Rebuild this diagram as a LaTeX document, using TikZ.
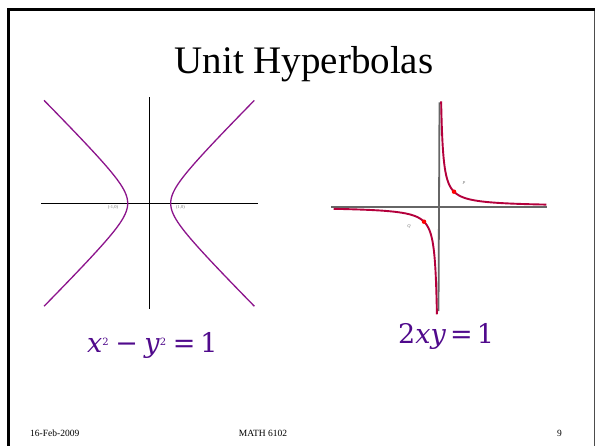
\documentclass[tikz,border=0pt]{standalone}
\usepackage{fontspec}
\setmainfont{Liberation Serif}
\newfontfamily\eqfont{DejaVu Serif}
\newcommand{\sqr}{\raisebox{7pt}{\fontsize{10}{10}\selectfont 2}}
\begin{document}
\begin{tikzpicture}[x=1pt,y=-1pt,
  frameline/.style={black,line width=3pt},
  axisL/.style={black,line width=1.2pt},
  axisR/.style={black!60,line width=1.8pt},
  curveL/.style={draw={rgb,255:red,140;green,20;blue,140},line width=1.3pt},
  curveR/.style={draw={rgb,255:red,180;green,0;blue,60},line width=1.9pt},
  tiny/.style={font=\fontsize{4.5}{5}\selectfont,text=black!55,inner sep=0pt},
  eqn/.style={font=\eqfont\fontsize{27}{30}\selectfont,text={rgb,255:red,80;green,10;blue,140},inner sep=0pt,anchor=base west},
  foot/.style={font=\fontsize{9.5}{10}\selectfont,inner sep=0pt,anchor=base west},
  pt/.style={circle,fill=red,inner sep=0pt,minimum size=4.5pt}]
\useasboundingbox (0,0) rectangle (596,446);
\fill[white] (0,0) rectangle (596,446);
% frame
\coordinate (fTL) at (8.5,10);
\coordinate (fTR) at (594.5,10);
\coordinate (fBL) at (8.5,447);
\coordinate (fBR) at (594.5,447);
\draw[black!70,line width=1pt] (fTR) -- (fBR);
\draw[frameline] (fBL) -- (fTL) -- (fTR);
% title
\node[font=\fontsize{39}{42}\selectfont,inner sep=0pt,anchor=base] (title) at (304,73.3) {Unit Hyperbolas};
% left plot
\coordinate (Lw) at (41,203.3);
\coordinate (Le) at (258,203.3);
\coordinate (Ln) at (149.2,97.3);
\coordinate (Ls) at (149.2,309);
\draw[axisL] (Lw) -- (Le);
\draw[axisL] (Ln) -- (Ls);
\draw[curveL] plot[domain=-2.27:2.27,samples=90,variable=\t] ({149.2+21.5*cosh(\t)},{203.3-21.5*sinh(\t)});
\draw[curveL] plot[domain=-2.27:2.27,samples=90,variable=\t] ({149.2-21.5*cosh(\t)},{203.3-21.5*sinh(\t)});
\node[tiny] (lm) at (113,207.7) {(-1,0)};
\node[tiny] (lp) at (180.5,207.7) {(1,0)};
% right plot
\coordinate (Rw) at (331,206.7);
\coordinate (Re) at (547,206.7);
\coordinate (Rn) at (439.5,102.3);
\coordinate (Rs) at (438.5,311);
\draw[axisR] (Rw) -- (Re);
\draw[axisR] (Rn) -- (Rs);
\draw[curveR] plot[domain=-1.95:1.97,samples=120,variable=\t] ({439+15*exp(\t)},{206.7-15*exp(-\t)});
\draw[curveR] plot[domain=-1.97:1.95,samples=120,variable=\t] ({439-15*exp(\t)},{206.7+15*exp(-\t)});
\node[pt] (P) at (454,191.7) {};
\node[pt] (Q) at (424,221.7) {};
\node[tiny,font=\fontsize{4.5}{5}\selectfont\itshape] (Pl) at (464,182.7) {P};
\node[tiny,font=\fontsize{4.5}{5}\selectfont\itshape] (Ql) at (409,226.7) {Q};
% equations
\node[eqn] (eq1) at (87,352) {\textit{x}\sqr\hspace{6.5pt}−\hspace{6.5pt}\textit{y}\sqr\hspace{6.5pt}=\hspace{5pt}1};
\node[eqn] (eq2) at (398,343) {2\textit{xy}\hspace{4pt}=\hspace{4pt}1};
% footer
\node[foot] (date) at (30,436) {16-Feb-2009};
\node[foot,anchor=base] (course) at (263,436) {MATH 6102};
\node[foot] (page) at (557,436) {9};
\end{tikzpicture}
\end{document}
